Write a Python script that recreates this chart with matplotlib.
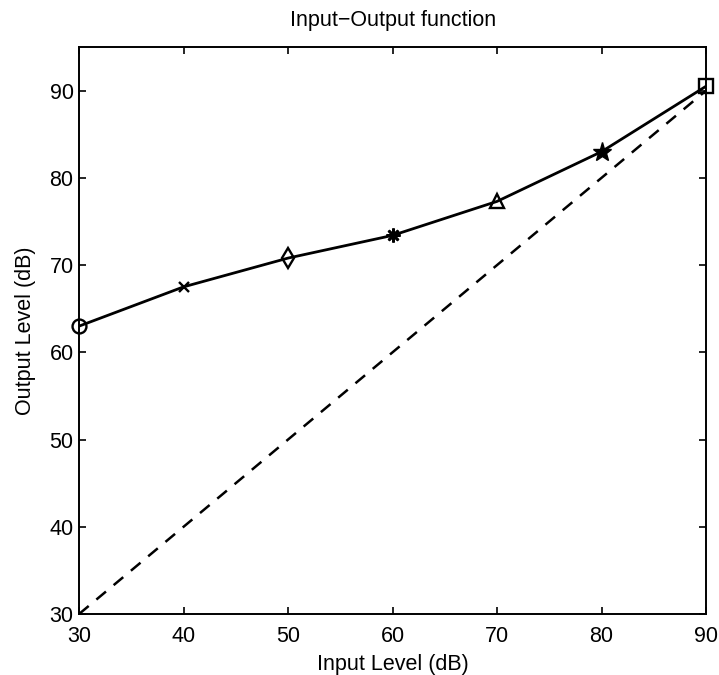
import matplotlib
matplotlib.use("Agg")
import matplotlib.pyplot as plt

plt.rcParams["font.family"] = ["Liberation Sans", "DejaVu Sans"]

input_level = [30, 40, 50, 60, 70, 80, 90]
output_level = [63.0, 67.5, 70.8, 73.4, 77.3, 83.0, 90.5]
markers = ["o", "x", "d", "*", "^", "*", "s"]
reference_line = [30, 90]
ticks = [30, 40, 50, 60, 70, 80, 90]

fig = plt.figure(figsize=(7.19, 6.75), dpi=100)
ax = fig.add_axes([0.110, 0.0904, 0.872, 0.840])

ax.plot(input_level, output_level, color="black", linewidth=2)
for x, y, m in zip(input_level, output_level, markers):
    if m == "*" and x == 60:
        # asterisk-style marker
        ax.plot(x, y, marker=(8, 2, 0), color="black", markersize=10, markeredgewidth=1.9)
    elif m == "*":
        ax.plot(x, y, marker="*", color="black", markersize=14)
    else:
        ax.plot(x, y, marker=m, color="black", markersize=10 if m != "x" else 7,
                markerfacecolor="none", markeredgewidth=1.7, clip_on=False)
ax.plot(reference_line, reference_line, color="black", linestyle=(0, (5, 4)), linewidth=1.8)

ax.set_xlim(30, 90)
ax.set_ylim(30, 95)
ax.set_xticks(ticks)
ax.set_yticks(ticks)
ax.tick_params(direction="in", top=True, right=True, labelsize=15.5, length=5, width=1.2)
ax.tick_params(axis="x", pad=9)
ax.tick_params(axis="y", pad=4)
for s in ax.spines.values():
    s.set_linewidth(1.4)

ax.set_xlabel("Input Level (dB)", fontsize=15.5, labelpad=5)
ax.set_ylabel("Output Level (dB)", fontsize=15.5, labelpad=10)
ax.set_title("Input\u2212Output function", fontsize=15.5, pad=15)

fig.savefig("out.png", dpi=100)
